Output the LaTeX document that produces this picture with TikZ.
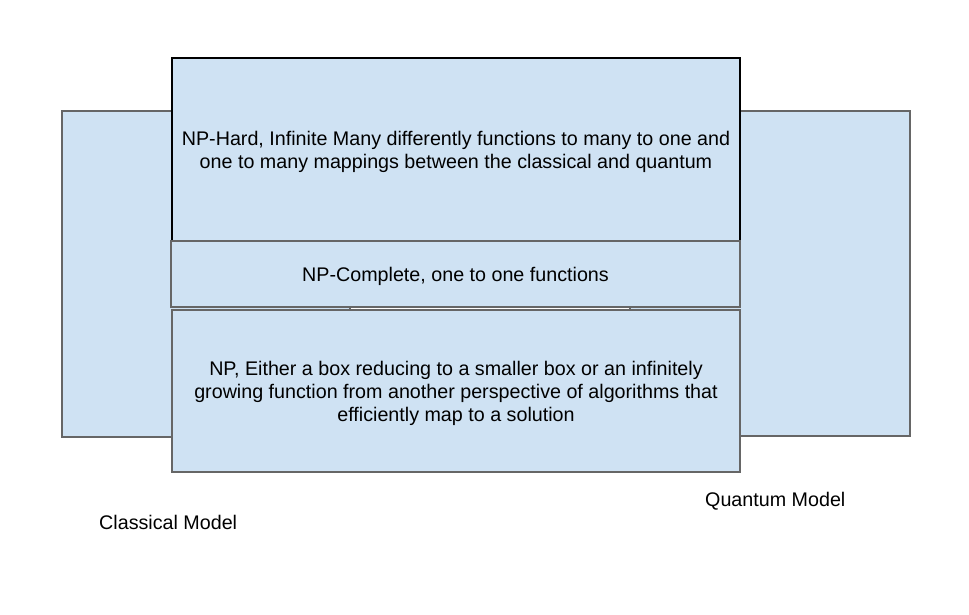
\documentclass[tikz,border=0pt]{standalone}
\usepackage{fontspec}
\setmainfont{Liberation Sans}
\definecolor{boxfill}{HTML}{CFE2F3}
\definecolor{boxline}{HTML}{666666}
\begin{document}
\begin{tikzpicture}[x=1pt,y=-1pt,
  panel/.style={draw=boxline,fill=boxfill,line width=1.3pt,inner sep=0pt,rectangle},
  lbl/.style={align=center,font=\fontsize{19.7}{23}\selectfont,text=black,yshift=-2.5pt},
  modelcap/.style={font=\fontsize{19.7}{23}\selectfont,inner sep=0pt,anchor=west}]
\useasboundingbox[fill=white] (0,0) rectangle (969,614);
\node[panel,minimum width=288pt,minimum height=326pt] (classical) at (206,274) {};
\node[panel,minimum width=280pt,minimum height=325pt] (quantum) at (770,273.5) {};
\node[panel,minimum width=568pt,minimum height=162pt] (np) at (456,391) {};
\node[panel,draw=black,minimum width=568pt,minimum height=183pt] (nphard) at (456,149.5) {};
\node[panel,minimum width=569pt,minimum height=66pt] (npc) at (455.5,274) {};
\node[lbl] (t1) at (nphard.center) {NP-Hard, Infinite Many differently functions to many to one and\\one to many mappings between the classical and quantum};
\node[lbl] (t2) at (npc.center) {NP-Complete, one to one functions};
\node[lbl] (t3) at (np.center) {NP, Either a box reducing to a smaller box or an infinitely\\growing function from another perspective of algorithms that\\efficiently map to a solution};
\node[modelcap] (cl) at (99,522) {Classical Model};
\node[modelcap] (qm) at (705,501) {Quantum Model};
\end{tikzpicture}
\end{document}
